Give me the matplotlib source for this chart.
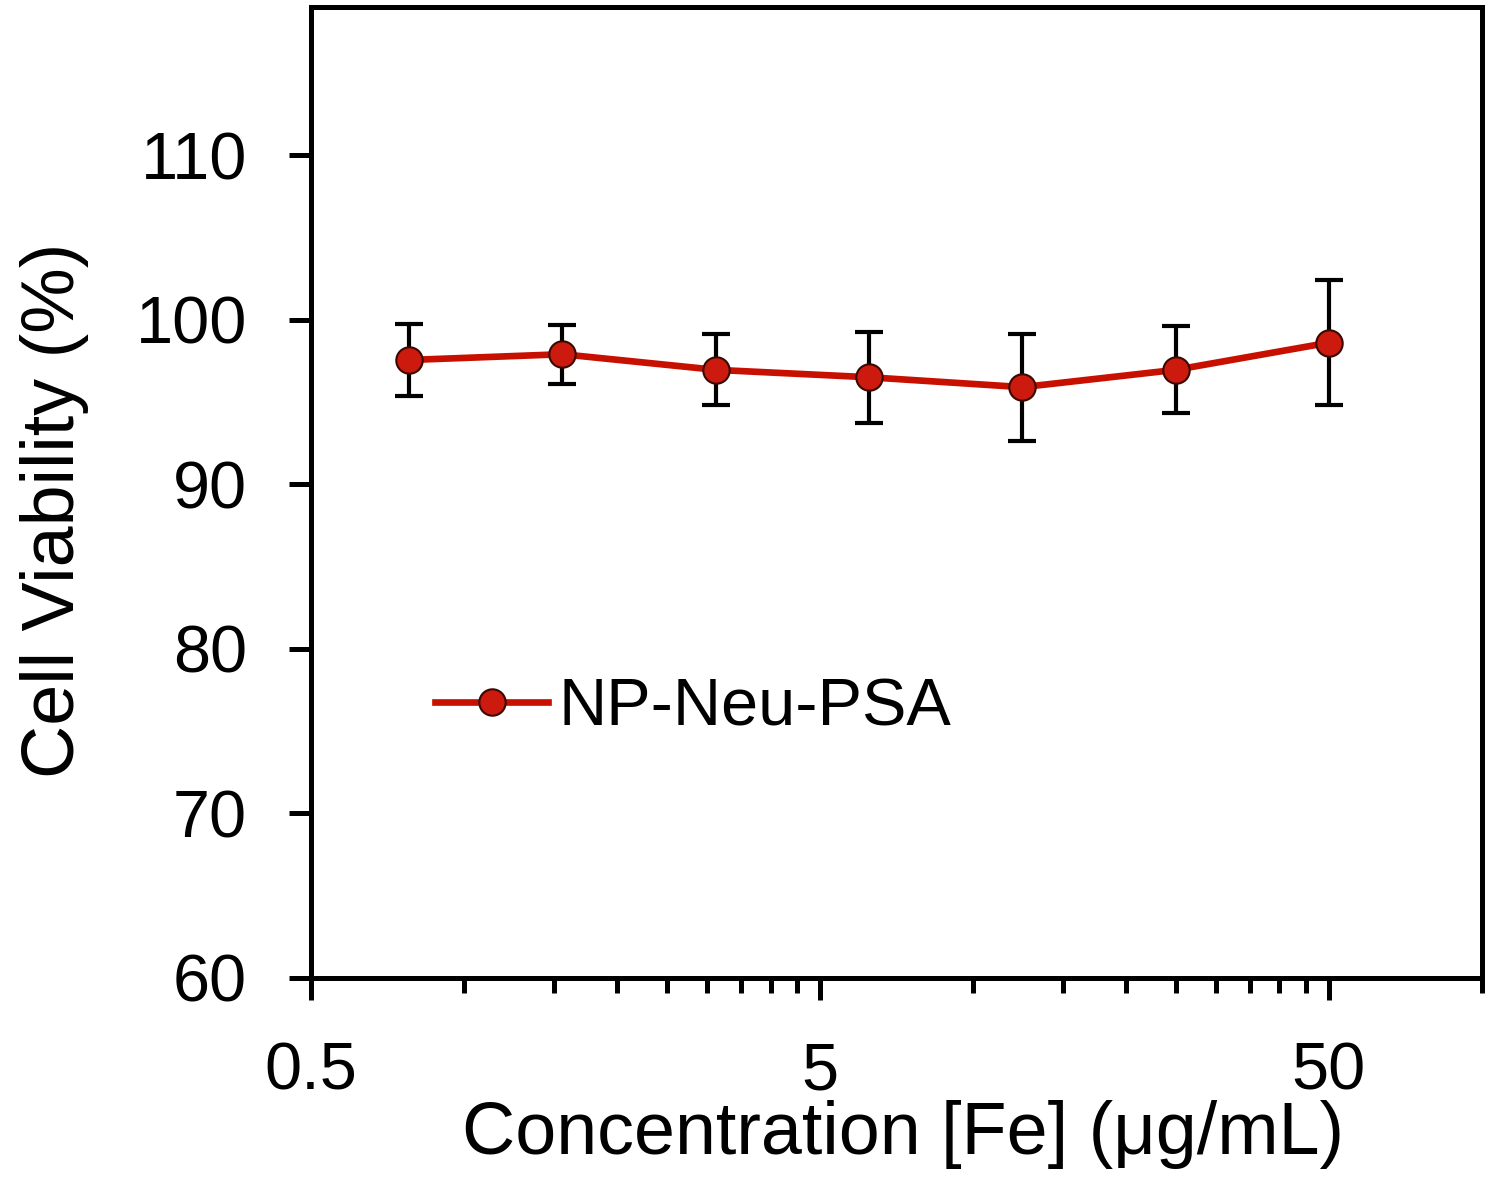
import matplotlib
matplotlib.use("Agg")
import matplotlib.pyplot as plt
from matplotlib.ticker import FixedLocator, NullFormatter

plt.rcParams["font.family"] = ["Liberation Sans", "DejaVu Sans"]

# data
conc = [0.78, 1.56, 3.125, 6.25, 12.5, 25, 50]
viability = [97.55, 97.9, 96.95, 96.5, 95.9, 96.95, 98.6]
viability_err = [2.2, 1.8, 2.15, 2.75, 3.25, 2.65, 3.8]
series_name = "NP-Neu-PSA"

x_major = [0.5, 5, 50]
x_major_labels = ["0.5", "5", "50"]
x_minor = [1, 1.5, 2, 2.5, 3, 3.5, 4, 4.5,
           10, 15, 20, 25, 30, 35, 40, 45, 100]
y_ticks = [60, 70, 80, 90, 100, 110]

line_red = "#c81000"
marker_red = "#cc1a0e"
marker_edge = "#3a0800"

fig = plt.figure(figsize=(15, 11.8), dpi=100)
ax = fig.add_axes([0.2073, 0.1712, 0.7807, 0.8229])

# error bars below, line + markers on top (legend shows only the line)
ax.errorbar(conc, viability, yerr=viability_err, fmt="none",
            ecolor="black", elinewidth=3.0, capsize=10, capthick=3.0,
            zorder=2)
ax.plot(conc, viability, color=line_red, lw=4.8, marker="o",
        markersize=19, markerfacecolor=marker_red,
        markeredgecolor=marker_edge, markeredgewidth=1.5,
        label=series_name, zorder=3)

ax.set_xscale("log")
ax.set_xlim(0.5, 100)
ax.set_ylim(60, 119)

ax.xaxis.set_major_locator(FixedLocator(x_major))
ax.set_xticklabels(x_major_labels)
ax.xaxis.set_minor_locator(FixedLocator(x_minor))
ax.xaxis.set_minor_formatter(NullFormatter())
ax.set_yticks(y_ticks)

for side in ["left", "right", "top", "bottom"]:
    ax.spines[side].set_linewidth(3.6)

ax.tick_params(axis="both", which="major", direction="out", length=16,
               width=3.6, labelsize=48, pad=30)
ax.tick_params(axis="x", which="minor", direction="out", length=11,
               width=3.6)
ax.tick_params(top=False, right=False, which="both")

ax.set_xlabel("Concentration [Fe] (\u03bcg/mL)", fontsize=53)
ax.set_ylabel("Cell Viability (%)", fontsize=53)
ax.xaxis.label.set_verticalalignment("center")
ax.yaxis.label.set_verticalalignment("center")
ax.xaxis.set_label_coords(0.5055, -0.1617)
ax.yaxis.set_label_coords(-0.2186, 0.482)

ax.legend(loc="center left", bbox_to_anchor=(0.106, 0.278),
          frameon=False, fontsize=48, handlelength=1.7,
          handletextpad=0.15, borderpad=0, borderaxespad=0)

fig.savefig("out.png", dpi=100)
